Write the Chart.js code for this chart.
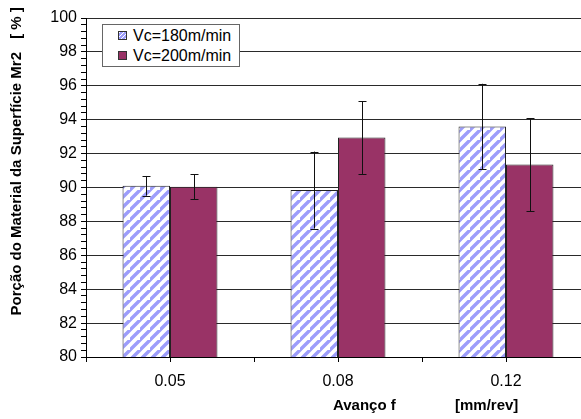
<!DOCTYPE html>
<html>
<head>
<meta charset="utf-8">
<script src="https://cdn.jsdelivr.net/npm/chart.js@4/dist/chart.umd.min.js"></script>
<style>
  html, body { margin: 0; padding: 0; overflow: hidden; background: #fff; }
  #wrap { position: relative; width: 610px; height: 419px; }
  #legend {
    position: absolute; left: 102px; top: 24px; width: 138px; height: 43px;
    box-sizing: border-box; border: 1px solid #666; background: #fff;
    font: 16px "Liberation Sans", Arial, sans-serif; color: #000;
  }
  #legend .row { position: absolute; left: 15px; height: 20px; line-height: 20px; white-space: nowrap; }
  #legend .sw { display: inline-block; width: 7px; height: 7px; border: 1px solid #333; margin-right: 6px; vertical-align: 1px; }
</style>
</head>
<body>
<div id="wrap">
  <canvas id="chart" width="610" height="419"></canvas>
  <div id="legend"></div>
</div>
<script>
// data
const categories = ['0.05', '0.08', '0.12'];
const seriesNames = ['Vc=180m/min', 'Vc=200m/min'];
const vc180 = [90.1, 89.85, 93.6];
const vc200 = [90.05, 92.95, 91.35];
const err180 = [0.58, 2.27, 2.52];
const err200 = [0.73, 2.15, 2.75];
const yTitleMain = 'Porção do Material da Superfície Mr2';
const yTitleUnit = '[ % ]';
const xTitleMain = 'Avanço f';
const xTitleUnit = '[mm/rev]';

const purple = '#993366';
const stripe = '#9d9dfb';

// diagonal stripes for the 180 series
function makeHatch() {
  const n = 10;
  const c = document.createElement('canvas');
  c.width = n; c.height = n;
  const g = c.getContext('2d');
  g.fillStyle = '#fff';
  g.fillRect(0, 0, n, n);
  g.strokeStyle = stripe;
  g.lineWidth = 3.4;
  g.beginPath();
  g.moveTo(-2, n + 2); g.lineTo(n + 2, -2);
  g.moveTo(-n - 2, n + 2); g.lineTo(2, -2);
  g.moveTo(n - 2, 2 * n + 2); g.lineTo(2 * n + 2, n - 2);
  g.stroke();
  return document.getElementById('chart').getContext('2d').createPattern(c, 'repeat');
}

// html legend
function buildLegend() {
  const box = document.getElementById('legend');
  const fills = ['repeating-linear-gradient(-45deg,#fff 0 1px,' + stripe + ' 1px 3px)', purple];
  seriesNames.forEach((name, i) => {
    const row = document.createElement('div');
    row.className = 'row';
    row.style.top = (1 + i * 20) + 'px';
    const sw = document.createElement('span');
    sw.className = 'sw';
    sw.style.background = fills[i];
    row.appendChild(sw);
    row.appendChild(document.createTextNode(name));
    box.appendChild(row);
  });
}

const isMajor = v => Math.abs(v / 2 - Math.round(v / 2)) < 1e-6;

const errorBars = {
  id: 'errorBars',
  afterDatasetsDraw(chart) {
    const ctx = chart.ctx;
    const y = chart.scales.y;
    const errs = [err180, err200];
    ctx.save();
    ctx.strokeStyle = '#111';
    ctx.lineWidth = 1;
    chart.data.datasets.forEach((ds, d) => {
      chart.getDatasetMeta(d).data.forEach((bar, i) => {
        const x = Math.round(bar.x) + 0.5;
        const top = y.getPixelForValue(ds.data[i] + errs[d][i]);
        const bot = y.getPixelForValue(ds.data[i] - errs[d][i]);
        ctx.beginPath();
        ctx.moveTo(x, top); ctx.lineTo(x, bot);
        ctx.moveTo(x - 4, Math.round(top) + 0.5); ctx.lineTo(x + 4, Math.round(top) + 0.5);
        ctx.moveTo(x - 4, Math.round(bot) + 0.5); ctx.lineTo(x + 4, Math.round(bot) + 0.5);
        ctx.stroke();
      });
    });
    ctx.restore();
  }
};

const axisExtras = {
  id: 'axisExtras',
  afterDraw(chart) {
    const ctx = chart.ctx;
    const xs = chart.scales.x;
    const area = chart.chartArea;
    ctx.save();
    // tick marks under each category centre
    ctx.strokeStyle = '#000';
    ctx.lineWidth = 1;
    categories.forEach((c, i) => {
      const px = Math.round(xs.getPixelForValue(i)) + 0.5;
      ctx.beginPath();
      ctx.moveTo(px, area.bottom);
      ctx.lineTo(px, area.bottom + 5);
      ctx.stroke();
    });
    // axis titles
    ctx.fillStyle = '#000';
    ctx.font = 'bold 15px "Liberation Sans", Arial, sans-serif';
    ctx.textBaseline = 'middle';
    ctx.textAlign = 'left';
    ctx.fillText(xTitleMain, 333, 406);
    ctx.fillText(xTitleUnit, 455, 406);
    ctx.translate(17, 0);
    ctx.rotate(-Math.PI / 2);
    ctx.textAlign = 'right';
    ctx.fillText(yTitleMain, -52, 0);
    ctx.textAlign = 'center';
    ctx.fillText(yTitleUnit, -23, 0);
    ctx.restore();
  }
};

function initChart() {
  const hatch = makeHatch();
  new Chart(document.getElementById('chart'), {
    type: 'bar',
    data: {
      labels: categories,
      datasets: [
        { label: seriesNames[0], data: vc180, backgroundColor: hatch, borderColor: '#222', borderWidth: 1, borderSkipped: false },
        { label: seriesNames[1], data: vc200, backgroundColor: purple, borderColor: '#222', borderWidth: 1, borderSkipped: false }
      ]
    },
    options: {
      responsive: false,
      animation: false,
      categoryPercentage: 0.565,
      barPercentage: 1.0,
      layout: { padding: { top: 18, right: 20, left: 0, bottom: 0 } },
      plugins: { legend: { display: false }, tooltip: { enabled: false } },
      scales: {
        x: {
          afterFit: s => { s.height = 62; },
          grid: { offset: true, drawOnChartArea: false, color: '#000', tickLength: 5 },
          border: { color: '#000', width: 1 },
          ticks: { color: '#000', font: { family: 'Liberation Sans', size: 16 }, padding: 10 }
        },
        y: {
          min: 80, max: 100,
          afterFit: s => { s.width = 86; },
          border: { color: '#000', width: 1 },
          grid: {
            color: c => isMajor(c.tick.value) ? '#2a2a2a' : 'rgba(0,0,0,0)',
            tickColor: '#000',
            tickLength: 5
          },
          ticks: {
            stepSize: 0.4,
            autoSkip: false,
            color: '#000',
            padding: 4,
            font: { family: 'Liberation Sans', size: 16 },
            callback: v => isMajor(v) ? String(Math.round(v)) : ''
          }
        }
      }
    },
    plugins: [errorBars, axisExtras]
  });
}

document.addEventListener('DOMContentLoaded', () => {
  buildLegend();
  initChart();
});
</script>
</body>
</html>
